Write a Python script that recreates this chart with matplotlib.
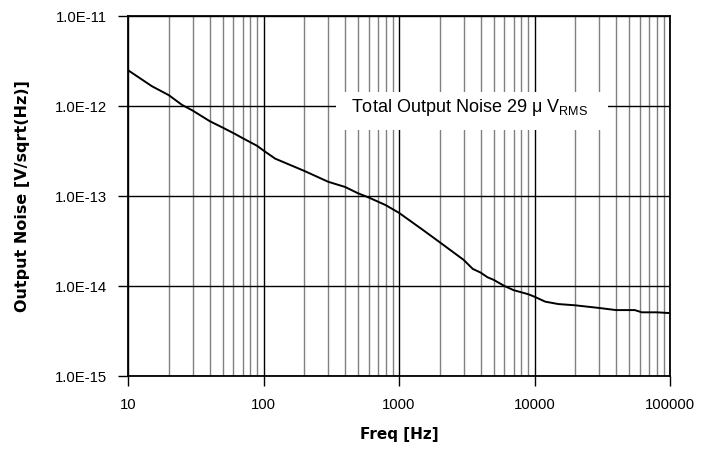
import matplotlib
matplotlib.use("Agg")
import matplotlib.pyplot as plt
from matplotlib.ticker import FixedLocator, FixedFormatter, LogLocator, NullFormatter
from matplotlib.patches import Rectangle

plt.rcParams['font.family'] = ['Liberation Sans', 'DejaVu Sans']
plt.rcParams['mathtext.fontset'] = 'custom'
plt.rcParams['mathtext.rm'] = 'Liberation Sans'
plt.rcParams['mathtext.it'] = 'Liberation Sans:italic'
plt.rcParams['mathtext.bf'] = 'Liberation Sans:bold'

# Data
freq = [10, 15, 20, 25, 30, 40, 50, 60, 70, 90, 100, 122, 200, 300, 400, 500,
        600, 800, 1000, 1500, 2000, 3000, 3500, 4000, 4500, 5000, 6000, 7000,
        9000, 10000, 12000, 15000, 20000, 30000, 40000, 55000, 62000, 80000,
        100000]
noise = [2.5e-12, 1.66e-12, 1.32e-12, 1.03e-12, 8.9e-13, 6.8e-13, 5.75e-13,
         5.0e-13, 4.4e-13, 3.6e-13, 3.2e-13, 2.6e-13, 1.9e-13, 1.44e-13,
         1.26e-13, 1.07e-13, 9.6e-14, 7.9e-14, 6.5e-14, 4.2e-14, 3.06e-14,
         1.95e-14, 1.55e-14, 1.41e-14, 1.25e-14, 1.17e-14, 1.0e-14, 9.0e-15,
         8.1e-15, 7.6e-15, 6.7e-15, 6.3e-15, 6.1e-15, 5.7e-15, 5.4e-15, 5.4e-15,
         5.1e-15, 5.1e-15, 5.0e-15]

x_ticks = [10, 100, 1000, 10000, 100000]
x_tick_labels = ['10', '100', '1000', '10000', '100000']
y_ticks = [1e-15, 1e-14, 1e-13, 1e-12, 1e-11]
y_tick_labels = ['1.0E-15', '1.0E-14', '1.0E-13', '1.0E-12', '1.0E-11']
annotation = 'Total Output Noise 29 \u03bc V$_{\\mathrm{RMS}}$'

fig = plt.figure(figsize=(7.21, 4.51), dpi=100)
ax = fig.add_axes([128/721, 1-376/451, 542/721, 360/451])

ax.set_xscale('log')
ax.set_yscale('log')
ax.set_xlim(10, 100000)
ax.set_ylim(1e-15, 1e-11)

ax.set_axisbelow(True)
ax.xaxis.set_major_locator(FixedLocator(x_ticks))
ax.xaxis.set_major_formatter(FixedFormatter(x_tick_labels))
ax.xaxis.set_minor_locator(LogLocator(base=10, subs=range(2, 10), numticks=20))
ax.xaxis.set_minor_formatter(NullFormatter())
ax.yaxis.set_major_locator(FixedLocator(y_ticks))
ax.yaxis.set_major_formatter(FixedFormatter(y_tick_labels))
ax.yaxis.set_minor_locator(FixedLocator([]))

ax.grid(True, which='major', axis='both', color='black', linewidth=1.0)
ax.grid(True, which='minor', axis='x', color='#808080', linewidth=1.0)

ax.tick_params(axis='both', which='major', direction='out', length=7, width=1,
               labelsize=10.7, color='black')
ax.tick_params(axis='x', which='major', pad=9)
ax.tick_params(axis='y', which='major', pad=8)
ax.tick_params(axis='x', which='minor', length=0)

for s in ax.spines.values():
    s.set_linewidth(1.3)
    s.set_color('black')

ax.plot(freq, noise, color='black', linewidth=1.4, zorder=3)

ax.add_patch(Rectangle((0.384, 0.683), 0.502, 0.106, transform=ax.transAxes,
                       facecolor='white', edgecolor='none', zorder=2))
ax.text(0.631, 0.747, annotation, transform=ax.transAxes, ha='center', va='center',
        fontsize=13, zorder=4)

ax.set_xlabel('Freq [Hz]', fontsize=11, fontweight='bold', labelpad=11,
              family=['DejaVu Sans'])
ax.set_ylabel('Output Noise [V/sqrt(Hz)]', fontsize=11.5, fontweight='bold',
              labelpad=18, family=['DejaVu Sans'])

fig.savefig('out.png', dpi=100)
